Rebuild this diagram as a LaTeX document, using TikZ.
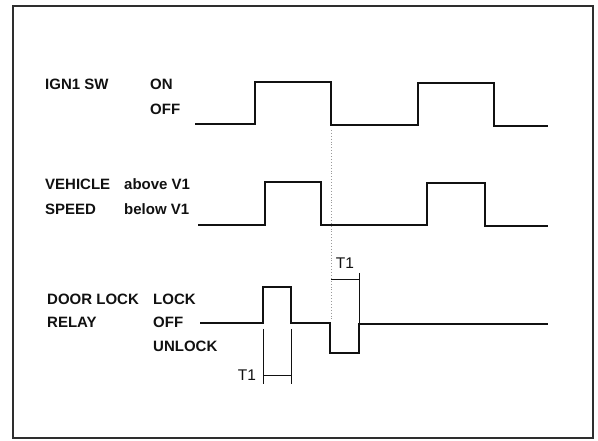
\documentclass[tikz,border=0pt]{standalone}
\usepackage{fontspec}
\setmainfont{Liberation Sans}
\usetikzlibrary{positioning,calc}
\definecolor{ink}{HTML}{111111}
\definecolor{framegray}{HTML}{2E2E2E}
\definecolor{guide}{HTML}{9A9A9A}
\tikzset{
  every node/.style={text=ink,inner sep=0pt},
  framebox/.style={draw=framegray,line width=2pt},
  sig/.style={draw=ink,line width=1.8pt,line join=miter},
  relaysig/.style={sig,line width=2.4pt},
  dimline/.style={draw=ink,line width=0.9pt},
  guideline/.style={draw=guide,line width=0.9pt,dotted},
  signame/.style={font=\fontsize{15}{17}\selectfont\bfseries,anchor=base west},
  lvl/.style={signame},
  dimlabel/.style={font=\fontsize{15.5}{17}\selectfont,anchor=base}
}

\begin{document}
\begin{tikzpicture}[x=1pt,y=-1pt]
  \useasboundingbox (0,0) rectangle (598,441);
  \draw[framebox] (13,6) rectangle (593,438);

  % signal names and levels
  \node[signame] (ign) at (45,90) {IGN1 SW};
  \node[lvl] (ignon) at (150,90) {ON};
  \node[lvl] (ignoff) at (150,115) {OFF};

  \node[signame] (veh) at (45,190) {VEHICLE};
  \node[signame] (spd) at (45,215) {SPEED};
  \node[lvl] (vhi) at (124,190) {above V1};
  \node[lvl] (vlo) at (124,215) {below V1};

  \node[signame] (door) at (47,305) {DOOR LOCK};
  \node[signame] (relay) at (47,327) {RELAY};
  \node[lvl] (rlock) at (153,305) {LOCK};
  \node[lvl] (roff) at (153,327) {OFF};
  \node[lvl] (runlock) at (153,352) {UNLOCK};

  % waveforms
  \draw[sig] (195,124) -- (255,124) -- (255,82) -- (331,82) -- (331,125) -- (418,125)
    -- (418,83) -- (494,83) -- (494,126) -- (548,126);
  \draw[sig] (198,225) -- (265,225) -- (265,182) -- (321,182) -- (321,225) -- (427,225)
    -- (427,183) -- (485,183) -- (485,226) -- (548,226);
  \draw[relaysig] (200,323) -- (263,323) -- (263,287) -- (291,287) -- (291,323) -- (330,323)
    -- (330,353) -- (359,353) -- (359,324) -- (548,324);

  % timing marks
  \coordinate (igoff) at (331,130);
  \coordinate (igoffb) at (331,321);
  \draw[guideline] (igoff) -- (igoffb);

  \coordinate (unl) at (359,273);
  \draw[dimline] (unl) -- (359,324);
  \draw[dimline] (331,279) -- (359,279);
  \node[dimlabel] (tun) at (345,269) {T1};

  \coordinate (lka) at (263,329);
  \coordinate (lkb) at (291,329);
  \draw[dimline] (lka) -- ++(0,55);
  \draw[dimline] (lkb) -- ++(0,55);
  \draw[dimline] (263,375) -- (291,375);
  \node[dimlabel] (tlk) at (247,380) {T1};
\end{tikzpicture}
\end{document}
